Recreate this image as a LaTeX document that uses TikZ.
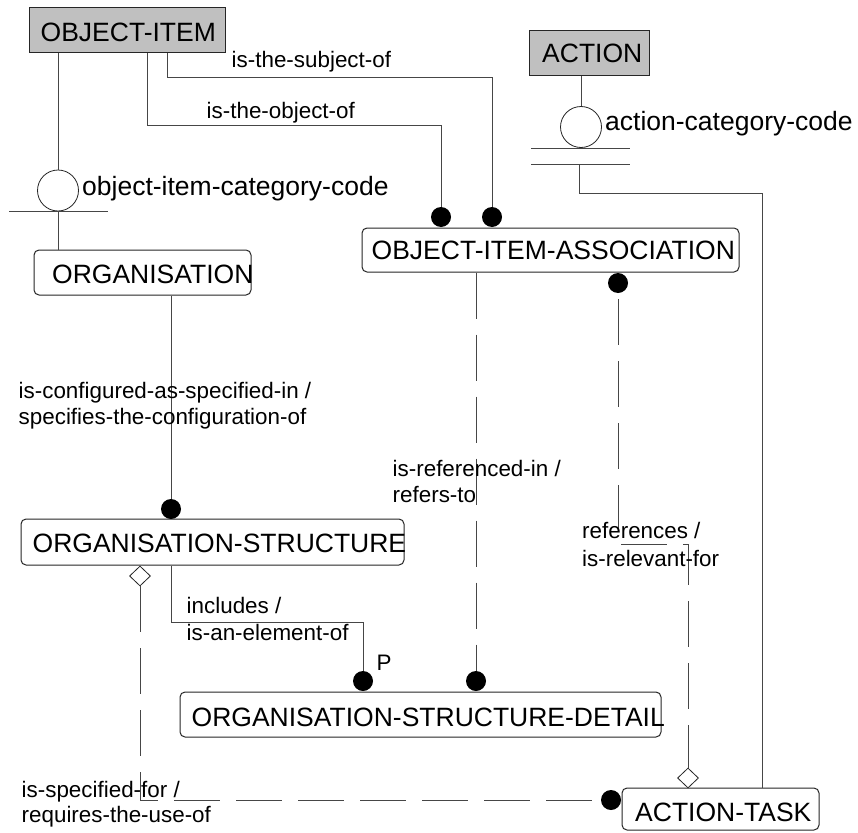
\documentclass[tikz,border=0pt]{standalone}
\usepackage{fontspec}
\setmainfont{Liberation Sans}
\usetikzlibrary{shapes.geometric}
\newcommand\entfont{\fontsize{26.5}{30}\selectfont}
\newcommand\relfont{\fontsize{22.4}{26}\selectfont}
\definecolor{kernelgray}{RGB}{192,192,192}
\definecolor{linegray}{RGB}{70,70,70}
\begin{document}
\begin{tikzpicture}[x=1pt,y=-1pt,
  entity/.style 2 args={draw=black!85, line width=1pt, rounded corners=5pt,
    fill=white, minimum width=#1, minimum height=#2, inner sep=0pt},
  kernel/.style 2 args={draw=black!85, line width=1pt, fill=kernelgray,
    minimum width=#1, minimum height=#2, inner sep=0pt},
  enttext/.style={font=\entfont, anchor=base west, inner sep=0pt},
  reltext/.style={font=\relfont, anchor=base west, inner sep=0pt},
  dot/.style={circle, fill=black, minimum size=20pt, inner sep=0pt},
  opendiamond/.style={diamond, draw=black!85, line width=0.8pt, fill=white,
    minimum width=21pt, minimum height=20pt, inner sep=0pt},
  catcircle/.style={circle, draw=black!85, line width=0.8pt, fill=white,
    minimum size=41pt, inner sep=0pt},
  conn/.style={draw=linegray, line width=1pt},
  dashrel/.style={conn, dash pattern=on 46pt off 16pt},
]
\useasboundingbox (0,0) rectangle (858,832);
\fill[white] (0,0) rectangle (858,832);

% ---- entity boxes ----
\node[kernel={196}{45}] (oi) at (127,30.5) {};
\node[enttext] (oi-t) at (40.5,42) {OBJECT-ITEM};
\node[kernel={120}{45}] (act) at (589,53.5) {};
\node[enttext] (act-t) at (542,63) {ACTION};
\node[entity={217}{45}] (org) at (142.5,272.5) {};
\node[enttext] (org-t) at (52,283) {ORGANISATION};
\node[entity={377}{44}] (oia) at (550.5,250) {};
\node[enttext] (oia-t) at (371.5,259) {OBJECT-ITEM-ASSOCIATION};
\node[entity={383}{46}] (os) at (212.5,542) {};
\node[enttext] (os-t) at (32.5,552) {ORGANISATION-STRUCTURE};
\node[entity={481}{45}] (osd) at (420.5,714.5) {};
\node[enttext] (osd-t) at (191.5,726) {ORGANISATION-STRUCTURE-DETAIL};
\node[entity={197}{42}] (at) at (720.5,809) {};
\node[enttext] (at-t) at (635,821) {ACTION-TASK};

% ---- category symbols ----
\node[catcircle] (c1) at (58,190.5) {};
\node[catcircle] (c2) at (581,127) {};
\draw[conn] (9,211) -- (108,211);
\draw[conn] (531,148) -- (630,148);
\draw[conn] (531,164) -- (630,164);
\coordinate (bar3) at (579,164);
\node[enttext] (c1-t) at (82,195) {object-item-category-code};
\node[enttext] (c2-t) at (605,130) {action-category-code};

% ---- relationship ends ----
\node[dot] (d1) at (441,217) {};
\node[dot] (d2) at (492,217) {};
\node[dot] (d3) at (618,283) {};
\node[dot] (d4) at (171,509) {};
\node[dot] (d5) at (363,681) {};
\node[dot] (d6) at (476,681) {};
\node[dot] (d7) at (611,800) {};
\node[opendiamond] (dm1) at (140,576) {};
\node[opendiamond] (dm2) at (688,778) {};

% ---- bend points ----
\coordinate (s1) at (167,78);
\coordinate (o1) at (147,125);
\coordinate (a1) at (762,193);
\coordinate (i1) at (171,622);
\coordinate (r1) at (618,544);

% ---- connectors ----
\draw[conn] (oi.south -| c1) -- (c1.north);
\draw[conn] (c1.south) -- (org.north -| c1);
\draw[conn] (oi.south -| s1) -- (s1) -| (d2.north);
\draw[conn] (oi.south -| o1) -- (o1) -| (d1.north);
\draw[conn] (act.south -| c2) -- (c2.north);
\draw[conn] (bar3) |- (a1) -- (a1 |- at.north);
\draw[conn] (org.south -| d4) -- (d4.north);
\draw[conn] (os.south -| i1) -- (i1) -| (d5.north);
\draw[dashrel] (oia.south -| d6) -- (d6.north);
\draw[dashrel, dash phase=56pt] (d3.south) -- (r1) -| (dm2.north);
\draw[dashrel] (dm1.south) |- (d7.west);

% ---- relationship labels ----
\node[reltext] (l1) at (231.5,68) {is-the-subject-of};
\node[reltext] (l2) at (206.5,118) {is-the-object-of};
\node[reltext] (l3a) at (18.5,398) {is-configured-as-specified-in /};
\node[reltext] (l3b) at (18.5,424) {specifies-the-configuration-of};
\node[reltext] (l4a) at (392.5,476) {is-referenced-in /};
\node[reltext] (l4b) at (392.5,502) {refers-to};
\node[reltext] (l5a) at (582,538) {references /};
\node[reltext] (l5b) at (582,566) {is-relevant-for};
\node[reltext] (l6a) at (186.5,613) {includes /};
\node[reltext] (l6b) at (186.5,640) {is-an-element-of};
\node[reltext] (l6p) at (376.5,670) {P};
\node[reltext] (l7a) at (21.5,797) {is-specified-for /};
\node[reltext] (l7b) at (21.5,822) {requires-the-use-of};
\end{tikzpicture}
\end{document}
